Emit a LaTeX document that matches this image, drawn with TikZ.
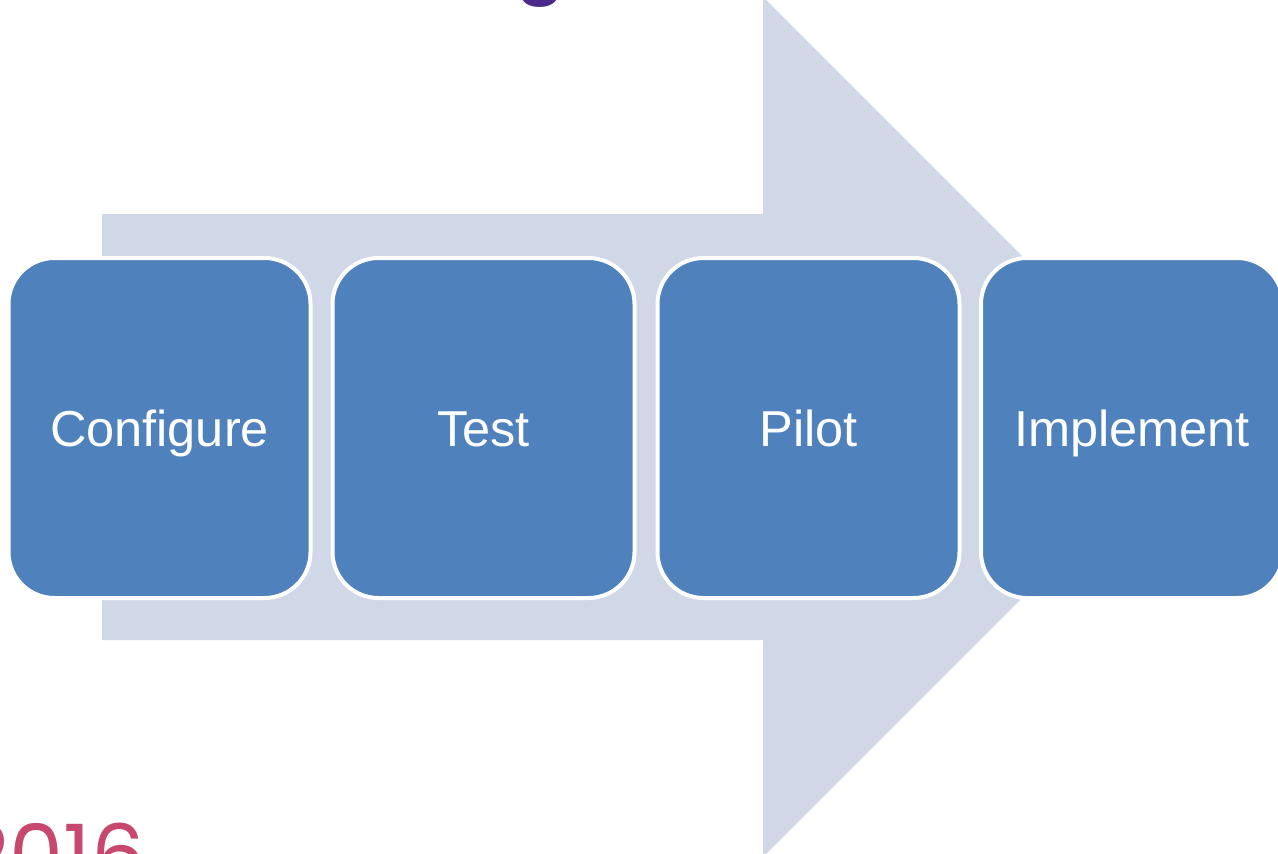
\documentclass[tikz,border=0pt]{standalone}
\usepackage{fontspec}
\setmainfont{Liberation Sans}
\newfontfamily\yearfont{Poppins}
\definecolor{arrowfill}{HTML}{D0D8E8}
\definecolor{boxfill}{HTML}{4F81BD}
\definecolor{titlepurple}{HTML}{4A2A8C}
\definecolor{yearred}{HTML}{C8476E}
\begin{document}
\begin{tikzpicture}[x=1pt,y=-1pt,
  stagebox/.style={draw=white, line width=4pt, fill=boxfill, rounded corners=46pt,
    minimum width=302pt, minimum height=340pt, inner sep=0pt,
    text height=36pt, text depth=0pt,
    text=white, font=\fontsize{50.5}{60}\selectfont}]
\useasboundingbox (0,0) rectangle (1278,854);
\clip (0,0) rectangle (1278,854);
\fill[arrowfill] (102,214) -- (763,214) -- (763,-3) -- (1193,427) -- (763,857) -- (763,640) -- (102,640) -- cycle;
\node[stagebox] (configure) at (159.5,428) {Configure};
\node[stagebox] (test) at (483.5,428) {Test};
\node[stagebox] (pilot) at (808.5,428) {Pilot};
\node[stagebox] (implement) at (1132,428) {Implement};
\node[anchor=base, inner sep=0pt, text=titlepurple, font=\fontsize{80}{90}\selectfont\bfseries] (titleg) at (541,-10) {g};
\node[anchor=base west, inner sep=0pt, text=yearred, font=\yearfont\fontsize{86}{96}\selectfont] (year) at (-40,886) {2016};
\end{tikzpicture}
\end{document}
